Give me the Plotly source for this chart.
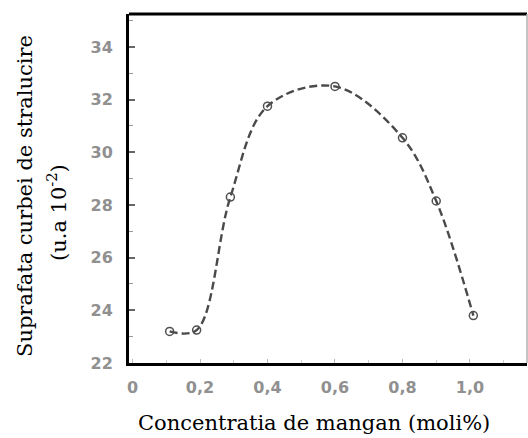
import plotly.graph_objects as go

# Data
x_conc = [0.11, 0.19, 0.29, 0.40, 0.60, 0.80, 0.90, 1.01]
y_area = [23.2, 23.25, 28.3, 31.75, 32.5, 30.55, 28.15, 23.8]

x_tickvals = [0, 0.2, 0.4, 0.6, 0.8, 1.0]
x_ticktext = ["0", "0,2", "0,4", "0,6", "0,8", "1,0"]
y_tickvals = [22, 24, 26, 28, 30, 32, 34]
y_ticktext = ["22", "24", "26", "28", "30", "32", "34"]

x_title = "Concentratia de mangan (moli%)"
y_title_1 = "Suprafata curbei de stralucire"
y_title_2 = "(u.a 10<sup>-2</sup>)"

fig = go.Figure()
fig.add_trace(go.Scatter(
    x=x_conc, y=y_area,
    mode="lines+markers",
    line=dict(shape="spline", smoothing=1.0, color="#4a4a4a", width=2.4, dash="8px,4px"),
    marker=dict(symbol="circle-open", size=8, color="#505050", line=dict(width=1.5)),
    showlegend=False,
    hoverinfo="skip",
))

tick_font = dict(family="DejaVu Sans", size=16, color="#909090", weight="bold")
serif = "DejaVu Serif"

fig.update_layout(
    width=528, height=438,
    margin=dict(l=129, r=1, t=14, b=75),
    paper_bgcolor="white", plot_bgcolor="white",
    xaxis=dict(
        range=[-0.0104, 1.169],
        tickvals=x_tickvals, ticktext=x_ticktext,
        tickfont=tick_font,
        showgrid=False, zeroline=False,
        showline=True, linecolor="black", linewidth=3,
        ticks="inside", ticklen=4, tickcolor="#bbbbbb", tickwidth=1,
        ticklabelstandoff=8,
        minor=dict(dtick=0.1, ticks="inside", ticklen=3, tickcolor="#cccccc"),
    ),
    yaxis=dict(
        range=[22, 35.25],
        tickvals=y_tickvals, ticktext=y_ticktext,
        tickfont=tick_font,
        showgrid=False, zeroline=False,
        showline=True, linecolor="black", linewidth=3,
        ticks="inside", ticklen=6, tickcolor="#666666", tickwidth=1.5,
        ticklabelstandoff=10,
        minor=dict(dtick=1, tick0=22, ticks="inside", ticklen=4, tickcolor="#999999", tickwidth=1.2),
    ),
    shapes=[
        dict(type="line", xref="paper", yref="paper", x0=0, x1=1, y0=1, y1=1,
             line=dict(color="black", width=3)),
        dict(type="line", xref="paper", yref="paper", x0=1, x1=1, y0=0, y1=1,
             line=dict(color="#b0b0b0", width=1.5)),
    ],
    annotations=[
        dict(text=x_title, xref="paper", yref="paper",
             x=(314 - 129) / 398, y=-(423 - 363) / 349,
             xanchor="center", yanchor="middle", showarrow=False,
             font=dict(family=serif, size=21, color="black")),
        dict(text=y_title_1, xref="paper", yref="paper",
             x=-(129 - 25) / 398, y=(363 - 196) / 349,
             xanchor="center", yanchor="middle", showarrow=False, textangle=-90,
             font=dict(family=serif, size=21, color="black")),
        dict(text=y_title_2, xref="paper", yref="paper",
             x=-(129 - 57) / 398, y=(363 - 213) / 349,
             xanchor="center", yanchor="middle", showarrow=False, textangle=-90,
             font=dict(family=serif, size=21, color="black")),
    ],
)

fig.write_html("out.html")
